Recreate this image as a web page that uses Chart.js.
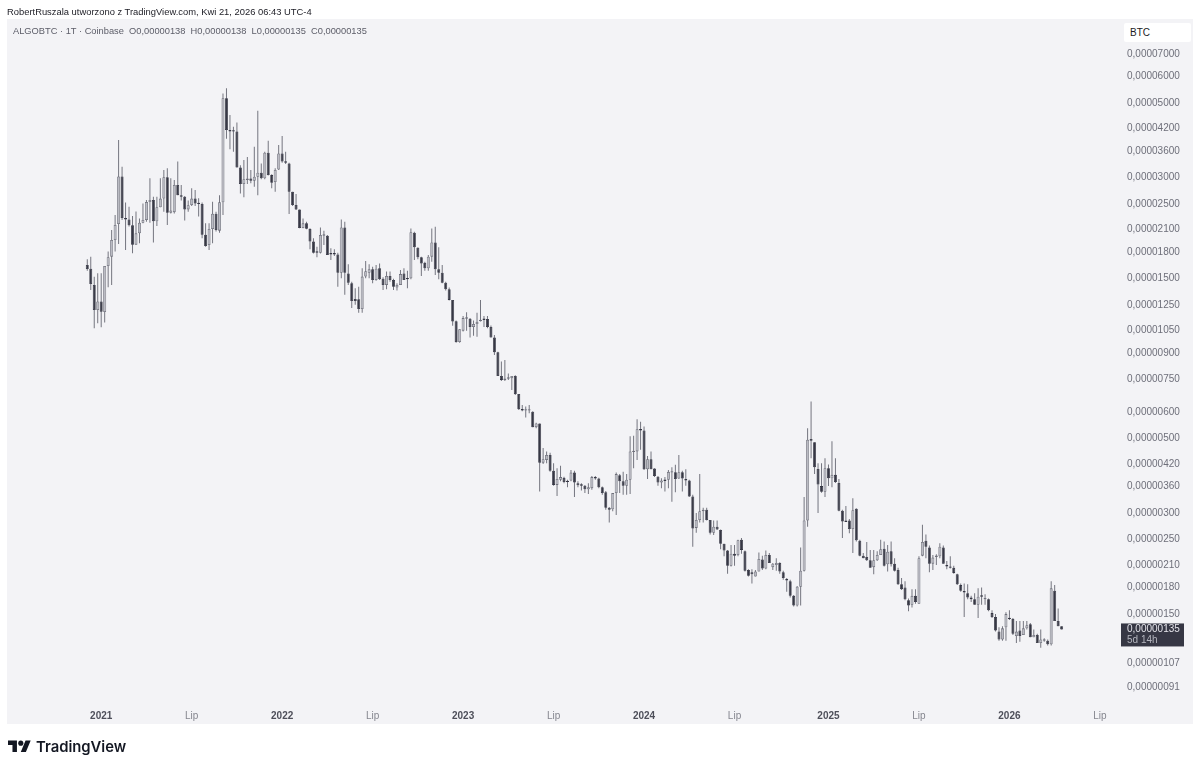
<!DOCTYPE html>
<html>
<head>
<meta charset="utf-8">
<title>ALGOBTC</title>
<script src="https://cdn.jsdelivr.net/npm/chart.js@4"></script>
<style>
  html, body { margin: 0; padding: 0; background: #fff; }
  body { width: 1200px; height: 769px; position: relative; overflow: hidden; font-family: "Liberation Sans", sans-serif; }
  canvas { display: block; position: absolute; left: 0; top: 0; }
  .txt { position: absolute; white-space: pre; }
  #byline { left: 7px; top: 5px; font-size: 9.4px; line-height: 13px; color: #1c1c24; }
  #legend { left: 13px; top: 25px; font-size: 9.3px; line-height: 13px; color: #5c5d68; }
  #unit { left: 1124px; top: 23px; width: 61px; height: 19px; padding-left: 6px; background: #fff; border-radius: 2px; font-size: 10px; line-height: 19px; color: #1c1c24; }
  #brand { left: 36px; top: 736px; font-family: Inter, sans-serif; font-size: 14.8px; line-height: 22px; font-weight: 600; color: #131722; }
  #logo { position: absolute; left: 8px; top: 738px; }
</style>
</head>
<body>
<canvas id="priceChart" width="1200" height="769"></canvas>
<div class="txt" id="byline">RobertRuszala utworzono z TradingView.com, Kwi 21, 2026 06:43 UTC-4</div>
<div class="txt" id="legend">ALGOBTC · 1T · Coinbase  O0,00000138  H0,00000138  L0,00000135  C0,00000135</div>
<div class="txt" id="unit">BTC</div>
<svg id="logo" width="23" height="18" viewBox="0 0 36 28"><path fill="#131722" d="M14 22H7V11H0V4h14v18zM28 22h-8l7.5-18h8L28 22z"/><circle fill="#131722" cx="20" cy="8" r="4"/></svg>
<div class="txt" id="brand">TradingView</div>

<script>
// Weekly candles, Dec 2020 to Apr 2026. Prices in 1e-8 BTC.
const opens = [
  1646,1605,1435,1209,1281,1192,1634,1743,1954,2180,
  3020,2270,2250,2160,1892,2045,2200,2241,2535,2571,
  2220,2445,2595,3005,2355,2365,2850,2658,2628,2410,
  2485,2595,2510,2500,2025,1888,2107,2340,2083,2530,
  5165,4156,4140,4110,3215,2870,2950,2978,2935,3015,
  3100,2985,3555,3050,2910,3170,3535,3345,3300,2722,
  2485,2410,2121,2190,2107,1932,1800,1790,2012,2012,
  1780,1780,1770,1560,2130,1553,1452,1304,1301,1217,
  1520,1560,1597,1485,1608,1498,1435,1527,1485,1411,
  1435,1553,1503,1503,2055,1853,1735,1670,1608,1743,
  1920,1597,1560,1458,1393,1295,1119,970,1049,1138,
  1138,1075,1098,1119,1135,1137,1075,1000,904,768,
  748,754,757,769,679,613,606,606,601,541,555,
  424,432,447,401,364,377,382,373,375,
  396,368,365,362,353,356,384,380,358,346,
  311,308,344,389,373,362,377,456,458,533,
  529,405,434,407,385,370,377,377,396,397,
  380,397,379,375,336,271,286,304,307,286,
  262,273,267,243,232,209,227,225,250,231,
  203,200,194,201,218,205,225,207,210,213,
  200,191,188,170,159,
  181,202,285,499,488,
  406,361,347,408,381,390,369,305,285,285,
  269,309,248,224,222,217,207,217,225,235,
  211,231,212,203,184,180,165,160,170,161,
  224,248,237,212,222,223,237,209,208,206,
  197,183,175,173,168,166,160,170,166,166,
  151,147,133,126,137,146,145,129,134,130,
  136,140,128,130,123,125,125,122,176,143,138
];
const highs = [
  1711,1743,1518,1555,1555,1634,1805,2093,2318,3880,
  3230,2525,2455,2305,2377,2265,2510,2571,2985,2628,
  2628,2985,3158,3195,2985,2949,3345,2850,2640,2560,
  2785,2753,2600,2525,2190,2190,2540,2370,2658,5340,
  5530,4606,4250,4375,3265,3383,3450,3158,3705,4745,
  3300,3582,3863,3065,3195,3750,3990,3582,3320,2722,
  2677,2410,2265,2215,2116,1976,1866,2130,2083,2022,
  1845,1832,1790,2250,2215,1655,1468,1403,1418,1608,
  1692,1655,1625,1645,1663,1513,1573,1573,1498,1452,
  1590,1608,1583,2115,2067,1858,1743,1683,1762,2115,
  2140,1858,1645,1468,1411,1295,1124,1059,1160,1190,
  1143,1124,1185,1295,1160,1160,1087,1018,907,849,
  858,782,769,773,679,630,623,630,603,558,555,
  469,458,454,422,408,415,385,377,403,
  401,373,368,364,368,387,387,382,360,349,
  313,344,396,392,398,392,508,510,571,561,
  543,444,458,408,387,381,384,403,411,418,
  447,401,405,377,340,300,392,311,311,286,
  285,285,268,243,233,241,241,250,253,232,
  204,204,203,229,224,232,228,213,220,214,
  202,192,190,171,182,
  237,335,537,645,488,
  422,422,437,419,491,437,379,307,315,288,
  332,310,250,228,246,233,233,231,250,247,
  241,247,220,206,192,188,167,178,178,223,
  277,259,240,225,226,244,240,216,223,209,
  198,185,185,184,170,173,179,180,172,167,
  154,150,137,138,152,154,146,143,143,143,
  143,141,135,131,135,127,126,188,183,156,138
];
const lows = [
  1583,1387,1066,1104,1073,1109,1413,1435,1805,1900,
  2241,1824,2142,1784,1892,1910,2190,2215,2200,1920,
  2150,2445,2370,2165,2345,2345,2658,2560,2232,2370,
  2467,2467,2295,1977,1866,1824,1910,2070,2055,2318,
  3915,3640,3582,3215,2690,2618,2870,2885,2815,2658,
  2965,2965,3043,2785,2722,3158,3320,3290,2335,2467,
  2400,2116,2116,2103,1832,1780,1735,1780,1888,1762,
  1703,1750,1418,1503,1342,1435,1225,1252,1185,1185,
  1503,1503,1452,1478,1485,1387,1393,1468,1387,1381,
  1435,1485,1403,1492,1703,1711,1527,1583,1583,1683,
  1537,1492,1452,1381,1289,1084,966,966,1042,1049,
  1000,1012,1005,1116,1075,1066,1000,887,768,742,
  742,748,698,674,609,603,578,595,541,537,348,
  420,422,398,362,337,373,368,358,373,
  335,358,350,344,342,352,377,356,340,307,
  281,304,296,344,340,340,342,408,432,463,
  403,379,405,384,362,356,348,356,324,346,
  379,348,362,335,238,262,281,281,285,259,
  258,267,234,223,198,208,209,223,227,201,
  194,185,194,201,203,204,213,203,202,198,
  190,175,168,158,158,
  159,201,273,437,392,
  300,345,335,361,358,369,304,253,282,261,
  228,247,223,220,216,206,197,216,225,208,
  201,208,201,183,177,165,153,157,161,161,
  223,220,200,203,210,220,212,204,205,198,
  183,175,147,166,163,160,146,160,160,153,
  146,133,125,125,125,144,130,123,124,130,
  135,128,128,123,119,124,121,121,143,138,135
];
const closes = [
  1601,1445,1209,1281,1195,1634,1735,1954,2165,3020,
  2270,2250,2160,1892,2045,2200,2241,2535,2571,2220,
  2445,2595,3005,2355,2390,2850,2658,2628,2410,2480,
  2595,2510,2500,2025,1875,2107,2340,2093,2530,5165,
  4156,4110,4110,3215,2870,2965,2978,2935,3015,3100,
  2985,3555,3050,2895,3158,3535,3345,3320,2722,2485,
  2410,2121,2190,2112,1932,1790,1790,2022,2022,1762,
  1770,1770,1560,2130,1560,1458,1286,1286,1217,1520,
  1577,1597,1485,1605,1492,1435,1527,1485,1418,1435,
  1546,1485,1492,2060,1858,1735,1663,1608,1743,1920,
  1597,1560,1458,1393,1295,1116,970,1059,1143,1143,
  1075,1098,1114,1129,1129,1075,1000,904,768,748,
  754,757,769,679,612,606,609,609,541,555,424,
  434,447,401,364,379,384,371,371,396,
  370,363,362,353,358,384,380,358,344,311,
  307,344,392,373,362,377,458,458,533,529,
  405,434,405,387,370,375,374,398,398,379,
  397,380,375,336,270,286,304,307,286,262,
  273,268,243,232,209,227,224,249,233,202,
  195,197,201,219,205,225,213,212,213,201,
  192,189,170,159,181,
  202,285,496,493,411,
  365,347,408,381,390,371,305,283,282,269,
  306,249,224,220,217,206,217,225,234,209,
  230,211,202,184,178,166,159,170,163,220,
  246,238,212,221,224,238,212,208,206,199,
  184,176,174,168,166,160,169,169,167,154,
  147,134,126,136,150,145,131,133,129,136,
  139,128,130,123,126,126,122,179,143,138,135
];

// Price axis labels (1e-8 BTC)
const priceTicks = [7000,6000,5000,4200,3600,3000,2500,2100,1800,1500,1250,1050,900,750,600,500,420,360,300,250,210,180,150,107,91];

// Time axis: week number (0 = first candle) and its label
const timeTickWeeks = [4,30,56,82,108,134,160,186,213,239,265,291];
const timeTickLabels = ['2021','Lip','2022','Lip','2023','Lip','2024','Lip','2025','Lip','2026','Lip'];

const countdown = '5d 14h';

const UP_FILL = '#babbc3';
const UP_EDGE = '#6f707b';
const DOWN_FILL = '#363744';
const WICK = '#74757f';

function formatPrice(v) {
  return (v / 1e8).toFixed(8).replace('.', ',');
}

const bodies = opens.map((o, i) => ({ x: i, y: [o, closes[i]] }));
const wicks = highs.map((h, i) => ({ x: i, y: [lows[i], h] }));
const isUp = opens.map((o, i) => closes[i] >= o);

// Grey panel behind the plot and the axes
const panel = {
  id: 'panel',
  beforeDraw(chart) {
    const ctx = chart.ctx;
    ctx.save();
    ctx.fillStyle = '#f3f3f6';
    ctx.fillRect(7, 19, 1186, 705);
    ctx.restore();
  }
};

// Dark label with the last price on the price axis
const lastPrice = {
  id: 'lastPrice',
  afterDraw(chart) {
    const ctx = chart.ctx;
    const last = closes[closes.length - 1];
    const y = chart.scales.y.getPixelForValue(last);
    ctx.save();
    ctx.fillStyle = '#363744';
    ctx.fillRect(1121, y - 6, 63, 23);
    ctx.font = '10px "Liberation Sans", sans-serif';
    ctx.textBaseline = 'middle';
    ctx.fillStyle = '#e4e4ea';
    ctx.fillText(formatPrice(last), 1127, y - 0.5);
    ctx.fillStyle = '#b4b5be';
    ctx.fillText(countdown, 1127, y + 10.5);
    ctx.restore();
  }
};

new Chart(document.getElementById('priceChart'), {
  type: 'bar',
  data: {
    datasets: [
      {
        label: 'body',
        data: bodies,
        grouped: false,
        barThickness: 3,
        maxBarThickness: 3,
        minBarLength: 1.4,
        borderWidth: 0.8,
        borderSkipped: false,
        inflateAmount: 0,
        backgroundColor: isUp.map(u => u ? UP_FILL : DOWN_FILL),
        borderColor: isUp.map(u => u ? UP_EDGE : DOWN_FILL)
      },
      {
        label: 'wick',
        data: wicks,
        grouped: false,
        barThickness: 1,
        maxBarThickness: 1,
        inflateAmount: 0,
        backgroundColor: WICK
      }
    ]
  },
  options: {
    responsive: false,
    animation: false,
    events: [],
    layout: { padding: { left: 7, top: 19, right: 7, bottom: 45 } },
    plugins: { legend: { display: false }, tooltip: { enabled: false } },
    scales: {
      x: {
        type: 'linear',
        offset: false,
        min: -23.07,
        max: 296.2,
        grid: { display: false, drawTicks: false },
        border: { display: false },
        afterBuildTicks: scale => { scale.ticks = timeTickWeeks.map(w => ({ value: w })); },
        afterFit: scale => { scale.height = 21; },
        ticks: {
          autoSkip: false,
          maxRotation: 0,
          padding: 7,
          callback: value => timeTickLabels[timeTickWeeks.indexOf(value)],
          color: ctx => timeTickLabels[ctx.index] === 'Lip' ? '#85868f' : '#4e4f5a',
          font: ctx => ({ family: 'Liberation Sans', size: 10, weight: timeTickLabels[ctx.index] === 'Lip' ? '400' : '700' })
        }
      },
      y: {
        type: 'logarithmic',
        position: 'right',
        min: 81.5,
        max: 8900,
        grid: { display: false, drawTicks: false },
        border: { display: false },
        afterBuildTicks: scale => { scale.ticks = priceTicks.map(v => ({ value: v })); },
        afterFit: scale => { scale.width = 75; },
        ticks: {
          autoSkip: false,
          padding: 9,
          callback: value => formatPrice(value),
          color: '#6e6f7a',
          font: { family: 'Liberation Sans', size: 10 }
        }
      }
    }
  },
  plugins: [panel, lastPrice]
});
</script>
</body>
</html>
